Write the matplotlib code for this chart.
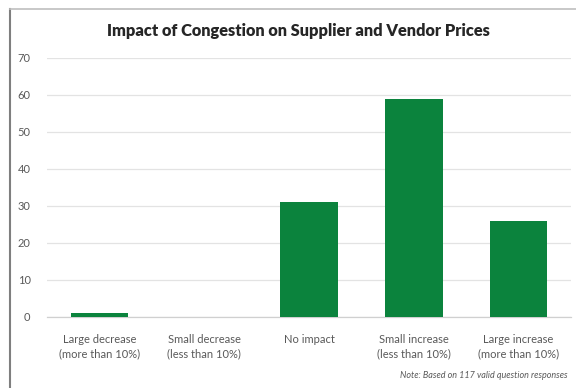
import matplotlib.pyplot as plt
from matplotlib.lines import Line2D

plt.rcParams['font.family'] = ['Lato', 'DejaVu Sans']

categories = ['Large decrease\n(more than 10%)', 'Small decrease\n(less than 10%)',
              'No impact', 'Small increase\n(less than 10%)', 'Large increase\n(more than 10%)']
responses = [1, 0, 31, 59, 26]
y_ticks = [0, 10, 20, 30, 40, 50, 60, 70]

fig = plt.figure(figsize=(5.76, 3.88), dpi=100)
ax = fig.add_axes([0.082, 0.183, 0.909, 0.668])

x = range(len(categories))
ax.bar(x, responses, width=0.55, color='#0b833d', zorder=3)

ax.set_xlim(-0.5, len(categories) - 0.5)
ax.set_ylim(0, 70)
ax.set_yticks(y_ticks)
ax.set_xticks(list(x))
ax.set_xticklabels(categories, fontsize=8, color='#595959', linespacing=1.35)
ax.tick_params(axis='y', labelsize=8, labelcolor='#595959', length=0, pad=12)
ax.tick_params(axis='x', length=0, pad=12)
ax.grid(axis='y', color='#e3e3e3', linewidth=0.9, zorder=0)
for side in ['top', 'right', 'left']:
    ax.spines[side].set_visible(False)
ax.spines['bottom'].set_color('#d0d0d0')
ax.spines['bottom'].set_linewidth(0.9)

fig.text(0.518, 0.92, 'Impact of Congestion on Supplier and Vendor Prices',
         ha='center', va='center', fontsize=11.8, fontweight='heavy', color='#262626')
fig.text(0.985, 0.033, 'Note: Based on 117 valid question responses',
         ha='right', va='center', fontsize=6.5, style='italic', color='#595959')

# outer frame edges
fig.add_artist(Line2D([10 / 576, 10 / 576], [0, 1 - 9 / 388], color='#7f7f7f', linewidth=1.5))
fig.add_artist(Line2D([10 / 576, 1], [1 - 9 / 388, 1 - 9 / 388], color='#bfbfbf', linewidth=1.2))

fig.savefig('out.png', dpi=100)
